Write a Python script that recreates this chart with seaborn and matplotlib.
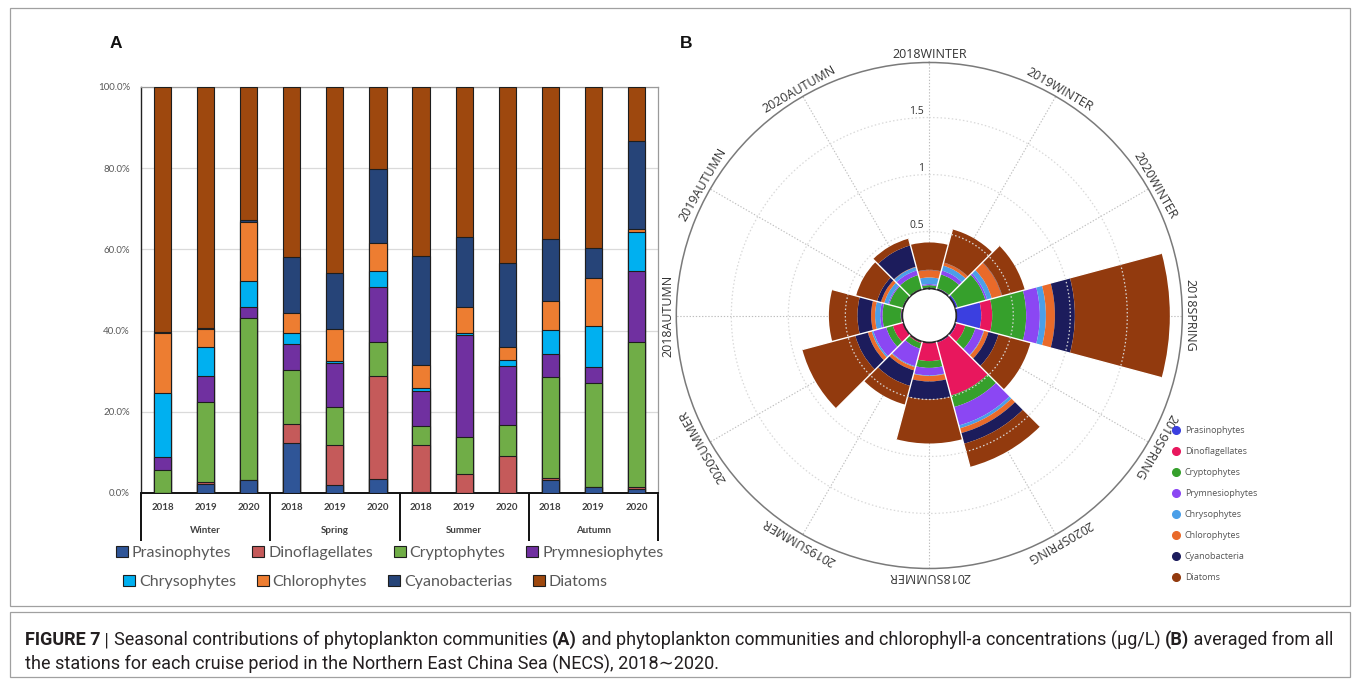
import numpy as np
import pandas as pd
import seaborn as sns
import matplotlib
matplotlib.use("Agg")
import matplotlib.pyplot as plt
import matplotlib.transforms as mtransforms
from matplotlib.patches import Patch, Rectangle
from matplotlib.lines import Line2D
from matplotlib.font_manager import FontProperties

sns.set_theme(style="white")
plt.rcParams["font.family"] = ["Lato", "DejaVu Sans"]

# ---------------- data ----------------
years = ["2018", "2019", "2020"]
seasons = ["Winter", "Spring", "Summer", "Autumn"]
groups = ["Prasinophytes", "Dinoflagellates", "Cryptophytes", "Prymnesiophytes",
          "Chrysophytes", "Chlorophytes", "Cyanobacterias", "Diatoms"]
groups_b = ["Prasinophytes", "Dinoflagellates", "Cryptophytes", "Prymnesiophytes",
            "Chrysophytes", "Chlorophytes", "Cyanobacteria", "Diatoms"]

# Panel A: relative contribution (%) per cruise, Winter 2018 ... Autumn 2020
pct_prasinophytes = [0.0, 2.2, 3.3, 12.3, 2.0, 3.4, 0.2, 0.0, 0.0, 3.1, 1.6, 1.0]
pct_dinoflagellates = [0.0, 0.4, 0.0, 4.7, 9.7, 25.5, 11.7, 4.8, 9.0, 0.6, 0.0, 0.5]
pct_cryptophytes = [5.7, 19.8, 39.9, 13.3, 9.6, 8.4, 4.7, 9.1, 7.8, 24.9, 25.4, 35.6]
pct_prymnesiophytes = [3.2, 6.5, 2.5, 6.3, 10.7, 13.4, 8.6, 24.9, 14.6, 5.7, 4.1, 17.5]
pct_chrysophytes = [15.7, 7.0, 6.6, 2.7, 0.4, 4.0, 0.6, 0.5, 1.4, 5.8, 10.0, 9.7]
pct_chlorophytes = [14.9, 4.4, 14.5, 5.1, 7.9, 6.8, 5.8, 6.4, 3.1, 7.3, 11.8, 0.8]
pct_cyanobacterias = [0.2, 0.3, 0.4, 13.8, 13.8, 18.2, 26.8, 17.4, 20.7, 15.2, 7.5, 21.5]
pct_diatoms = [60.3, 59.4, 32.8, 41.8, 45.9, 20.3, 41.6, 36.9, 43.4, 37.4, 39.6, 13.4]

# Panel B: chlorophyll-a (ug/L) by group for each cruise, clockwise from 2018WINTER
periods_b = ["2018WINTER", "2019WINTER", "2020WINTER", "2018SPRING", "2019SPRING", "2020SPRING",
             "2018SUMMER", "2019SUMMER", "2020SUMMER", "2018AUTUMN", "2019AUTUMN", "2020AUTUMN"]
chl_prasinophytes = [0.005, 0.010, 0.021, 0.219, 0.012, 0.010, 0.003, 0.005, 0.005, 0.010, 0.007, 0.005]
chl_dinoflagellates = [0.002, 0.002, 0.001, 0.096, 0.080, 0.480, 0.160, 0.010, 0.090, 0.004, 0.001, 0.002]
chl_cryptophytes = [0.022, 0.125, 0.251, 0.298, 0.090, 0.105, 0.060, 0.050, 0.060, 0.160, 0.120, 0.124]
chl_prymnesiophytes = [0.010, 0.035, 0.016, 0.120, 0.075, 0.167, 0.066, 0.160, 0.117, 0.020, 0.010, 0.042]
chl_chrysophytes = [0.058, 0.045, 0.042, 0.053, 0.005, 0.026, 0.005, 0.008, 0.015, 0.045, 0.035, 0.030]
chl_chlorophytes = [0.064, 0.026, 0.091, 0.079, 0.040, 0.044, 0.048, 0.030, 0.035, 0.035, 0.030, 0.004]
chl_cyanobacteria = [0.003, 0.002, 0.003, 0.175, 0.090, 0.096, 0.158, 0.140, 0.114, 0.120, 0.035, 0.193]
chl_diatoms = [0.240, 0.300, 0.205, 0.833, 0.290, 0.210, 0.386, 0.170, 0.480, 0.250, 0.190, 0.061]

colors_a = ["#2f5597", "#c55a5a", "#70ad47", "#7030a0", "#00b0f0", "#ed7d31", "#264478", "#9e480e"]
colors_b = ["#3b3fe0", "#e8175d", "#36a02c", "#8b47f3", "#4b9fe8", "#e96a2a", "#1c1c5c", "#923a0e"]

# ---------------- figure ----------------
W, H = 1358, 683
fig = plt.figure(figsize=(W / 100, H / 100), dpi=100)
fig.patch.set_facecolor("white")


def fx(px):
    return px / W


def fy(py):
    return 1 - py / H


# ---------------- panel A : stacked percentage bars ----------------
period_keys = [f"{s} {y}" for s in seasons for y in years]
pct_table = [pct_prasinophytes, pct_dinoflagellates, pct_cryptophytes, pct_prymnesiophytes,
             pct_chrysophytes, pct_chlorophytes, pct_cyanobacterias, pct_diatoms]
df = pd.DataFrame({g: v for g, v in zip(groups, pct_table)}, index=period_keys)
cum = df.cumsum(axis=1)

axa = fig.add_axes([fx(141), fy(493), fx(658) - fx(141), fy(87) - fy(493)])
# draw cumulative totals from the top layer down so each layer shows as a segment
for g, col in reversed(list(zip(groups, colors_a))):
    sns.barplot(x=period_keys, y=cum[g].values, order=period_keys, color=col,
                saturation=1, width=0.4, edgecolor="#1e1e1e", linewidth=0.8,
                errorbar=None, ax=axa, zorder=3)

axa.set_xlim(-0.5, 11.5)
axa.set_ylim(0, 100)
axa.set_yticks(np.arange(0, 101, 20))
axa.set_yticklabels([f"{v:.1f}%" for v in np.arange(0, 101, 20)], fontsize=7, color="#595959")
axa.tick_params(axis="y", length=0, pad=8)
axa.set_xticks([])
axa.set_xlabel("")
axa.set_ylabel("")
axa.yaxis.grid(True, color="#dadada", linewidth=0.9)
axa.set_axisbelow(True)
for side in ["top", "right"]:
    axa.spines[side].set_color("#9a9a9a")
    axa.spines[side].set_linewidth(0.9)
axa.spines["left"].set_color("#222222")
axa.spines["left"].set_linewidth(1.0)
axa.spines["bottom"].set_color("#111111")
axa.spines["bottom"].set_linewidth(1.4)

# two-level category table under the bars
btrans = mtransforms.blended_transform_factory(axa.transData, axa.transAxes)
for b in [-0.5, 2.5, 5.5, 8.5, 11.5]:
    axa.plot([b, b], [0, -0.118], transform=btrans, color="#111111", lw=1.4,
             clip_on=False, solid_capstyle="butt")
for i, key in enumerate(period_keys):
    axa.text(i, -0.035, key.split()[1], transform=btrans, ha="center", va="center",
             fontsize=7, fontweight="bold", color="#404040")
for k, s in enumerate(seasons):
    axa.text(3 * k + 1, -0.092, s, transform=btrans, ha="center", va="center",
             fontsize=7, fontweight="bold", color="#404040")

# legend rows
handles_a = [Patch(facecolor=c, edgecolor="#1e1e1e", linewidth=0.8) for c in colors_a]
leg1 = fig.legend(handles_a[:4], groups[:4], loc="center left",
                  bbox_to_anchor=(fx(116), fy(553)), ncol=4, frameon=False,
                  fontsize=11.5, handlelength=0.75, handleheight=0.75,
                  handletextpad=0.25, columnspacing=1.3, borderaxespad=0, borderpad=0)
leg2 = fig.legend(handles_a[4:], groups[4:], loc="center left",
                  bbox_to_anchor=(fx(123), fy(582)), ncol=4, frameon=False,
                  fontsize=11.5, handlelength=0.75, handleheight=0.75,
                  handletextpad=0.25, columnspacing=1.3, borderaxespad=0, borderpad=0)
for lg in (leg1, leg2):
    for t in lg.get_texts():
        t.set_color("#595959")

# ---------------- panel B : polar stacked bars ----------------
CX, CY, RPX = 929.3, 315.5, 253.0
R0 = 27.0 / 114.0
RMAX = (RPX - 27.0) / 114.0
axp = fig.add_axes([fx(CX - RPX), fy(CY + RPX), 2 * RPX / W, 2 * RPX / H], projection="polar")
axp.set_theta_zero_location("N")
axp.set_theta_direction(-1)
axp.set_ylim(0, RMAX)
axp.set_rorigin(-R0)
axp.grid(False)
axp.set_xticks([])
axp.set_yticks([])
axp.spines["polar"].set_color("#7a7a7a")
axp.spines["polar"].set_linewidth(1.1)

theta = np.deg2rad(np.arange(len(periods_b)) * 30.0)
sector = np.deg2rad(30.0)
chl_table = [chl_prasinophytes, chl_dinoflagellates, chl_cryptophytes, chl_prymnesiophytes,
             chl_chrysophytes, chl_chlorophytes, chl_cyanobacteria, chl_diatoms]

# radial guides at each cruise
for th in theta:
    axp.plot([th, th], [0, RMAX], ls=(0, (1.2, 1.6)), color="#bdbdbd", lw=0.8, zorder=1)

base = np.zeros(len(periods_b))
for vals, col in zip(chl_table, colors_b):
    vals = np.asarray(vals)
    axp.bar(theta, vals, width=sector, bottom=base, color=col, edgecolor="none",
            linewidth=0, align="center", zorder=2)
    base = base + vals

# thin white separators between neighbouring sectors
for i in range(len(periods_b)):
    edge = theta[i] + sector / 2
    reach = max(base[i], base[(i + 1) % len(periods_b)])
    axp.plot([edge, edge], [0, reach], color="white", lw=1.0, zorder=3,
             solid_capstyle="butt")

# circular guides drawn over the bars
ring = np.linspace(0, 2 * np.pi, 720)
for v in [0.5, 1.0, 1.5]:
    axp.plot(ring, np.full_like(ring, v), ls=(0, (1.2, 1.8)), color="#d9d9d9",
             lw=0.9, zorder=4)
    axp.annotate(f"{v:g}", xy=(0, v), xytext=(-4, 4), textcoords="offset points",
                 ha="right", va="center", fontsize=7.5, color="#333333",
                 family=["Open Sans", "DejaVu Sans"], annotation_clip=False)

for th, lab in zip(theta, periods_b):
    axp.text(th, RMAX + 0.012, lab, rotation=-np.rad2deg(th), rotation_mode="anchor",
             ha="center", va="bottom", fontsize=9, color="#333333",
             family=["Open Sans", "DejaVu Sans"], clip_on=False)

handles_b = [Line2D([], [], marker="o", ls="", markersize=5.5, markerfacecolor=c,
                    markeredgecolor=c) for c in colors_b]
legb = fig.legend(handles_b, groups_b, loc="upper left", bbox_to_anchor=(fx(1171), fy(426)),
                  frameon=False, labelspacing=1.33, handletextpad=0.35,
                  handlelength=1.2, borderaxespad=0, borderpad=0,
                  prop={"family": ["Open Sans", "DejaVu Sans"], "size": 6.5})
for t in legb.get_texts():
    t.set_color("#555555")

# ---------------- panel letters ----------------
fig.text(fx(116), fy(44), "A", fontsize=12.5, fontweight="bold", ha="center", va="center",
         family=["Liberation Sans", "DejaVu Sans"], color="#111111")
fig.text(fx(686), fy(44), "B", fontsize=12.5, fontweight="bold", ha="center", va="center",
         family=["Liberation Sans", "DejaVu Sans"], color="#111111")

# ---------------- frame and caption ----------------
fig.add_artist(Rectangle((fx(10), fy(606)), fx(1350) - fx(10), fy(8) - fy(606),
                         transform=fig.transFigure, fill=False, edgecolor="#a0a0a0", lw=0.9))
fig.add_artist(Rectangle((fx(10), fy(677)), fx(1350) - fx(10), fy(612) - fy(677),
                         transform=fig.transFigure, fill=False, edgecolor="#a0a0a0", lw=0.9))

cap_family = ["Roboto", "DejaVu Sans"]
renderer = fig.canvas.get_renderer()


def run_width(s, size, weight):
    fp = FontProperties(family=cap_family, size=size, weight=weight)
    w1, _, _ = renderer.get_text_width_height_descent(s + "|", fp, ismath=False)
    w2, _, _ = renderer.get_text_width_height_descent("|", fp, ismath=False)
    return w1 - w2


line1 = [("FIGURE 7", "bold"), (" | ", "normal"),
         ("Seasonal contributions of phytoplankton communities ", "normal"), ("(A)", "bold"),
         (" and phytoplankton communities and chlorophyll-a concentrations (\u03bcg/L) ", "normal"),
         ("(B)", "bold"), (" averaged from all", "normal")]
line2 = [("the stations for each cruise period in the Northern East China Sea (NECS), 2018\u223c2020.",
          "normal")]

test = 10.0
total = sum(run_width(s, test, w) for s, w in line1)
cap_size = min(13.5, test * (1310.0 / total))


def draw_runs(x_px, y_px, runs):
    x = x_px
    for s, w in runs:
        fig.text(fx(x), fy(y_px), s, fontsize=cap_size, fontweight=w, family=cap_family,
                 ha="left", va="center", color="#231f20")
        x += run_width(s, cap_size, w)


draw_runs(25, 640, line1)
draw_runs(25, 664, line2)

fig.savefig("out.png", dpi=100, facecolor="white")
